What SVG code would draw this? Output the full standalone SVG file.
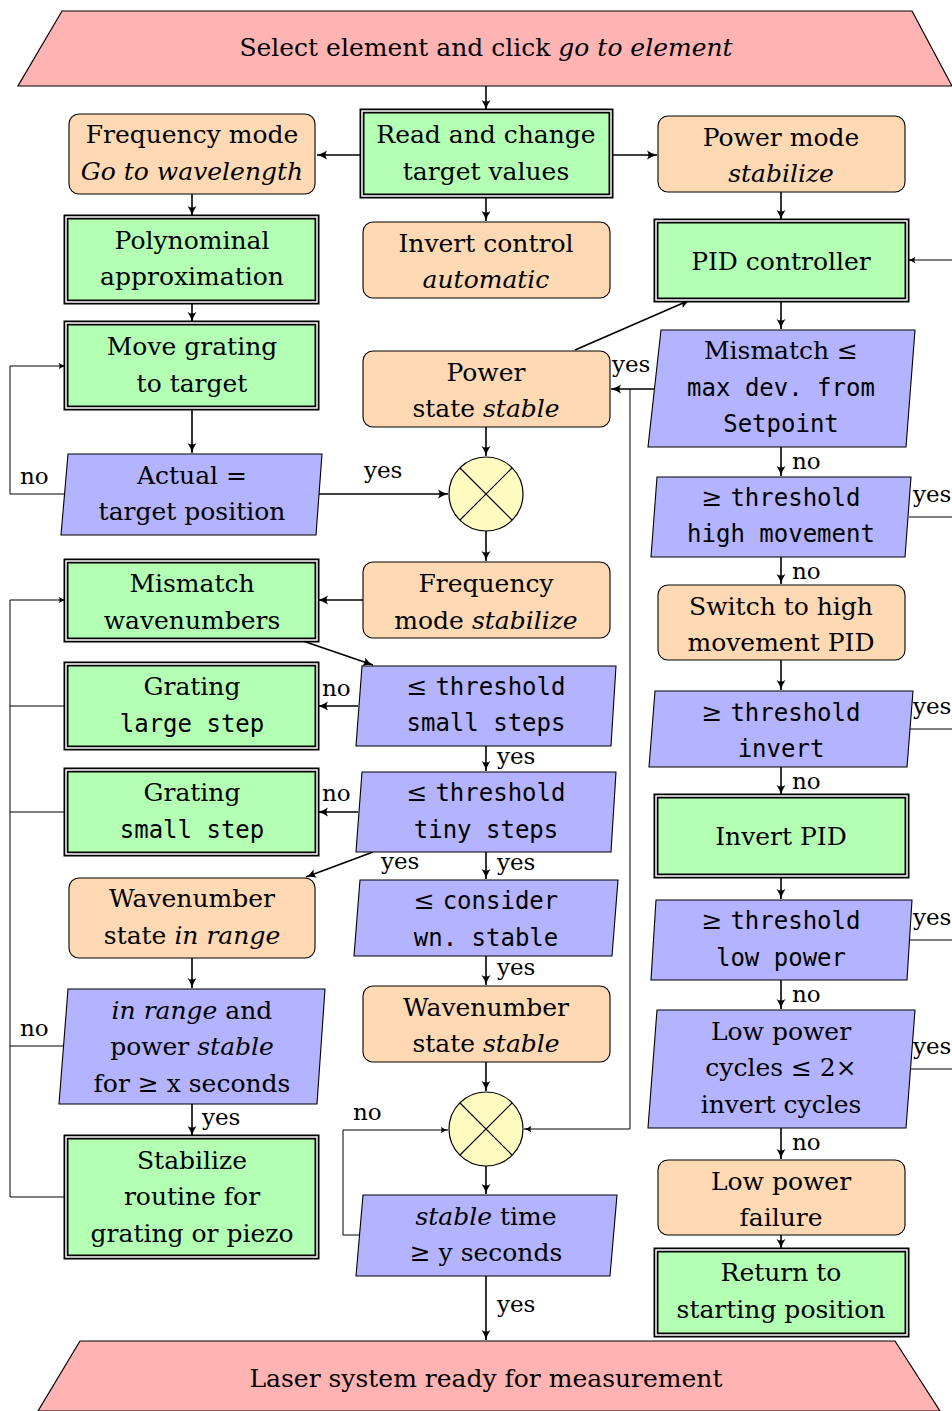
<svg xmlns="http://www.w3.org/2000/svg" width="952" height="1411" viewBox="0 0 952 1411">
<defs>
<style>
text{font-family:"DejaVu Serif","Liberation Serif","Noto Serif",serif;font-size:25px;fill:#000;text-anchor:middle}
.tt{font-family:"DejaVu Sans Mono","Liberation Mono",monospace;font-size:24px;word-spacing:0}
.it{font-style:italic}
.lab{font-size:23px;text-anchor:start}
.term{fill:#ffb3b3;stroke:#000;stroke-width:1.2}
.proc{fill:#b3ffb3}
.dbo{fill:none;stroke:#000;stroke-width:5}
.dbi{fill:none;stroke:#fff;stroke-width:1.5}
.st{fill:#ffd9b3;stroke:#000;stroke-width:1.1}
.dec{fill:#b3b3ff;stroke:#000;stroke-width:1.1}
.sum{fill:#fffac0;stroke:#000;stroke-width:1.2}
.c{fill:none;stroke:#000;stroke-width:1.6;marker-end:url(#ah)}
.t{fill:none;stroke:#000;stroke-width:1}
.ta{fill:none;stroke:#000;stroke-width:1;marker-end:url(#ahs)}
</style>
<marker id="ah" markerWidth="12" markerHeight="12" refX="10" refY="5" orient="auto" markerUnits="userSpaceOnUse" viewBox="0 0 12 10">
<path d="M0,0.5 Q5,4 10,5 Q5,6 0,9.5 Q3,5 0,0.5 z" fill="#000"/>
</marker>
<marker id="ahs" markerWidth="9" markerHeight="9" refX="10" refY="5" orient="auto" markerUnits="userSpaceOnUse" viewBox="0 0 12 10">
<path d="M0,0.5 Q5,4 10,5 Q5,6 0,9.5 Q3,5 0,0.5 z" fill="#000"/>
</marker>
</defs>
<rect width="952" height="1411" fill="#fff"/>

<g id="connectors">
<path class="c" d="M486,86 V110"/>
<path class="c" d="M362,155 H317"/>
<path class="c" d="M611,155 H657"/>
<path class="c" d="M486,196 V221"/>
<path class="c" d="M192,194 V216"/>
<path class="c" d="M192,302 V322"/>
<path class="c" d="M192,408 V453"/>
<path class="c" d="M781,192 V220"/>
<path class="c" d="M575,350 L690,300"/>
<path class="c" d="M781,300 V329"/>
<path class="c" d="M654,389 H611"/>
<path class="c" d="M319,494 H448"/>
<path class="c" d="M486,427 V456"/>
<path class="c" d="M486,531 V561"/>
<path class="c" d="M363,600 H318"/>
<path class="c" d="M300,640 L373,665"/>
<path class="c" d="M358,706 H318"/>
<path class="c" d="M486,746 V771"/>
<path class="c" d="M358,812 H318"/>
<path class="c" d="M373,852 L306,877"/>
<path class="c" d="M486,852 V879"/>
<path class="c" d="M486,956 V985"/>
<path class="c" d="M192,958 V988"/>
<path class="c" d="M192,1104 V1136"/>
<path class="c" d="M486,1062 V1091"/>
<path class="c" d="M486,1166 V1194"/>
<path class="c" d="M486,1276 V1340"/>
<path class="c" d="M781,447 V476"/>
<path class="c" d="M781,557 V584"/>
<path class="c" d="M781,660 V690"/>
<path class="c" d="M781,767 V795"/>
<path class="c" d="M781,876 V899"/>
<path class="c" d="M781,980 V1009"/>
<path class="c" d="M781,1128 V1159"/>
<path class="c" d="M781,1235 V1249"/>
<path class="ta" d="M64,494 H10 V366 H66"/>
<path class="ta" d="M10,1197 V600 H66"/>
<path class="t" d="M66,706 H10 M66,812 H10 M63,1046 H10 M66,1197 H10"/>
<path class="ta" d="M630,389 V1129 H524"/>
<path class="ta" d="M360,1235 H343 V1130 H448"/>
<path class="t" d="M909,517 H952 M910,729 H952 M909,940 H952 M910,1069 H952"/>
<path class="ta" d="M952,260 H908"/>
<text class="lab" x="20" y="484">no</text>
<text class="lab" x="364" y="478">yes</text>
<text class="lab" x="612" y="372">yes</text>
<text class="lab" x="792" y="469">no</text>
<text class="lab" x="913" y="502">yes</text>
<text class="lab" x="792" y="579">no</text>
<text class="lab" x="913" y="714">yes</text>
<text class="lab" x="792" y="789">no</text>
<text class="lab" x="913" y="925">yes</text>
<text class="lab" x="792" y="1002">no</text>
<text class="lab" x="913" y="1054">yes</text>
<text class="lab" x="792" y="1150">no</text>
<text class="lab" x="322" y="696">no</text>
<text class="lab" x="497" y="764">yes</text>
<text class="lab" x="322" y="801">no</text>
<text class="lab" x="381" y="869">yes</text>
<text class="lab" x="497" y="870">yes</text>
<text class="lab" x="497" y="975">yes</text>
<text class="lab" x="20" y="1036">no</text>
<text class="lab" x="202" y="1125">yes</text>
<text class="lab" x="353" y="1120">no</text>
<text class="lab" x="497" y="1312">yes</text>
</g>

<g id="start">
<polygon class="term" points="62,11 912,11 952,86 18,86"/>
<text x="486" y="56">Select element and click <tspan class="it">go to element</tspan></text>
</g>
<g id="read-change">
<rect class="proc" x="362" y="111" width="249" height="85"/>
<rect class="dbo" x="362" y="111" width="249" height="85"/><rect class="dbi" x="362" y="111" width="249" height="85"/>
<text x="486" y="143">Read and change</text><text x="486" y="180">target values</text>
</g>
<g id="freq-mode">
<rect class="st" x="69" y="114" width="246" height="80" rx="10"/>
<text x="192" y="143">Frequency mode</text><text class="it" x="192" y="180">Go to wavelength</text>
</g>
<g id="power-mode">
<rect class="st" x="658" y="116" width="247" height="76" rx="10"/>
<text x="781" y="146">Power mode</text><text class="it" x="781" y="182">stabilize</text>
</g>
<g id="invert-control">
<rect class="st" x="363" y="222" width="247" height="76" rx="10"/>
<text x="486" y="252">Invert control</text><text class="it" x="486" y="288">automatic</text>
</g>
<g id="poly">
<rect class="proc" x="66" y="217" width="251" height="85"/>
<rect class="dbo" x="66" y="217" width="251" height="85"/><rect class="dbi" x="66" y="217" width="251" height="85"/>
<text x="192" y="249">Polynominal</text><text x="192" y="285">approximation</text>
</g>
<g id="move-grating">
<rect class="proc" x="66" y="323" width="251" height="85"/>
<rect class="dbo" x="66" y="323" width="251" height="85"/><rect class="dbi" x="66" y="323" width="251" height="85"/>
<text x="192" y="355">Move grating</text><text x="192" y="392">to target</text>
</g>
<g id="pid">
<rect class="proc" x="656" y="221" width="251" height="79"/>
<rect class="dbo" x="656" y="221" width="251" height="79"/><rect class="dbi" x="656" y="221" width="251" height="79"/>
<text x="781" y="270">PID controller</text>
</g>
<g id="power-state">
<rect class="st" x="363" y="351" width="247" height="76" rx="10"/>
<text x="486" y="381">Power</text><text x="486" y="417">state <tspan class="it">stable</tspan></text>
</g>
<g id="mismatch-max">
<polygon class="dec" points="661,330 915,330 906,447 648,447"/>
<text x="781" y="359">Mismatch ≤</text>
<text class="tt" x="781" y="396">max dev. from</text>
<text class="tt" x="781" y="432">Setpoint</text>
</g>
<g id="actual-target">
<polygon class="dec" points="68,454 322,454 316,535 61,535"/>
<text x="192" y="484">Actual =</text><text x="192" y="520">target position</text>
</g>
<g id="sum1">
<circle class="sum" cx="486" cy="494" r="37"/>
<path d="M460,468 L512,520 M512,468 L460,520" stroke="#000" stroke-width="1.2"/>
</g>
<g id="freq-stabilize">
<rect class="st" x="363" y="562" width="247" height="76" rx="10"/>
<text x="486" y="592">Frequency</text><text x="486" y="629">mode <tspan class="it">stabilize</tspan></text>
</g>
<g id="mismatch-wn">
<rect class="proc" x="66" y="561" width="251" height="79"/>
<rect class="dbo" x="66" y="561" width="251" height="79"/><rect class="dbi" x="66" y="561" width="251" height="79"/>
<text x="192" y="592">Mismatch</text><text x="192" y="629">wavenumbers</text>
</g>
<g id="thr-small">
<polygon class="dec" points="362,666 616,666 611,746 356,746"/>
<text x="486" y="695">≤ <tspan class="tt">threshold</tspan></text>
<text class="tt" x="486" y="731">small steps</text>
</g>
<g id="grating-large">
<rect class="proc" x="66" y="664" width="251" height="84"/>
<rect class="dbo" x="66" y="664" width="251" height="84"/><rect class="dbi" x="66" y="664" width="251" height="84"/>
<text x="192" y="695">Grating</text><text class="tt" x="192" y="732">large step</text>
</g>
<g id="thr-tiny">
<polygon class="dec" points="362,772 616,772 611,852 356,852"/>
<text x="486" y="801">≤ <tspan class="tt">threshold</tspan></text>
<text class="tt" x="486" y="838">tiny steps</text>
</g>
<g id="grating-small">
<rect class="proc" x="66" y="770" width="251" height="84"/>
<rect class="dbo" x="66" y="770" width="251" height="84"/><rect class="dbi" x="66" y="770" width="251" height="84"/>
<text x="192" y="801">Grating</text><text class="tt" x="192" y="838">small step</text>
</g>
<g id="consider-stable">
<polygon class="dec" points="360,880 618,880 612,956 354,956"/>
<text x="486" y="909">≤ <tspan class="tt">consider</tspan></text>
<text class="tt" x="486" y="946">wn. stable</text>
</g>
<g id="wn-in-range">
<rect class="st" x="69" y="878" width="246" height="80" rx="10"/>
<text x="192" y="907">Wavenumber</text><text x="192" y="944">state <tspan class="it">in range</tspan></text>
</g>
<g id="wn-stable">
<rect class="st" x="363" y="986" width="247" height="76" rx="10"/>
<text x="486" y="1016">Wavenumber</text><text x="486" y="1052">state <tspan class="it">stable</tspan></text>
</g>
<g id="in-range-power">
<polygon class="dec" points="68,989 325,989 317,1104 59,1104"/>
<text x="192" y="1019"><tspan class="it">in range</tspan> and</text>
<text x="192" y="1055">power <tspan class="it">stable</tspan></text>
<text x="192" y="1092">for ≥ x seconds</text>
</g>
<g id="stabilize-routine">
<rect class="proc" x="66" y="1137" width="251" height="120"/>
<rect class="dbo" x="66" y="1137" width="251" height="120"/><rect class="dbi" x="66" y="1137" width="251" height="120"/>
<text x="192" y="1169">Stabilize</text><text x="192" y="1205">routine for</text><text x="192" y="1242">grating or piezo</text>
</g>
<g id="sum2">
<circle class="sum" cx="486" cy="1129" r="37"/>
<path d="M460,1103 L512,1155 M512,1103 L460,1155" stroke="#000" stroke-width="1.2"/>
</g>
<g id="stable-time">
<polygon class="dec" points="363,1195 617,1195 610,1276 356,1276"/>
<text x="486" y="1225"><tspan class="it">stable</tspan> time</text>
<text x="486" y="1261">≥ y seconds</text>
</g>
<g id="thr-high">
<polygon class="dec" points="657,477 911,477 905,557 651,557"/>
<text x="781" y="506">≥ <tspan class="tt">threshold</tspan></text>
<text class="tt" x="781" y="542">high movement</text>
</g>
<g id="switch-high">
<rect class="st" x="658" y="585" width="247" height="75" rx="10"/>
<text x="781" y="615">Switch to high</text><text x="781" y="651">movement PID</text>
</g>
<g id="thr-invert">
<polygon class="dec" points="655,691 913,691 907,767 649,767"/>
<text x="781" y="721">≥ <tspan class="tt">threshold</tspan></text>
<text class="tt" x="781" y="757">invert</text>
</g>
<g id="invert-pid">
<rect class="proc" x="656" y="796" width="251" height="80"/>
<rect class="dbo" x="656" y="796" width="251" height="80"/><rect class="dbi" x="656" y="796" width="251" height="80"/>
<text x="781" y="845">Invert PID</text>
</g>
<g id="thr-low">
<polygon class="dec" points="656,900 912,900 907,980 651,980"/>
<text x="781" y="929">≥ <tspan class="tt">threshold</tspan></text>
<text class="tt" x="781" y="966">low power</text>
</g>
<g id="low-cycles">
<polygon class="dec" points="657,1010 915,1010 906,1128 648,1128"/>
<text x="781" y="1040">Low power</text>
<text x="781" y="1076">cycles ≤ 2×</text>
<text x="781" y="1113">invert cycles</text>
</g>
<g id="low-failure">
<rect class="st" x="658" y="1160" width="247" height="75" rx="10"/>
<text x="781" y="1190">Low power</text><text x="781" y="1226">failure</text>
</g>
<g id="return-start">
<rect class="proc" x="656" y="1250" width="251" height="85"/>
<rect class="dbo" x="656" y="1250" width="251" height="85"/><rect class="dbi" x="656" y="1250" width="251" height="85"/>
<text x="781" y="1281">Return to</text><text x="781" y="1318">starting position</text>
</g>
<g id="end">
<polygon class="term" points="80,1341 895,1341 940,1411 38,1411"/>
<text x="486" y="1387">Laser system ready for measurement</text>
</g>
</svg>
